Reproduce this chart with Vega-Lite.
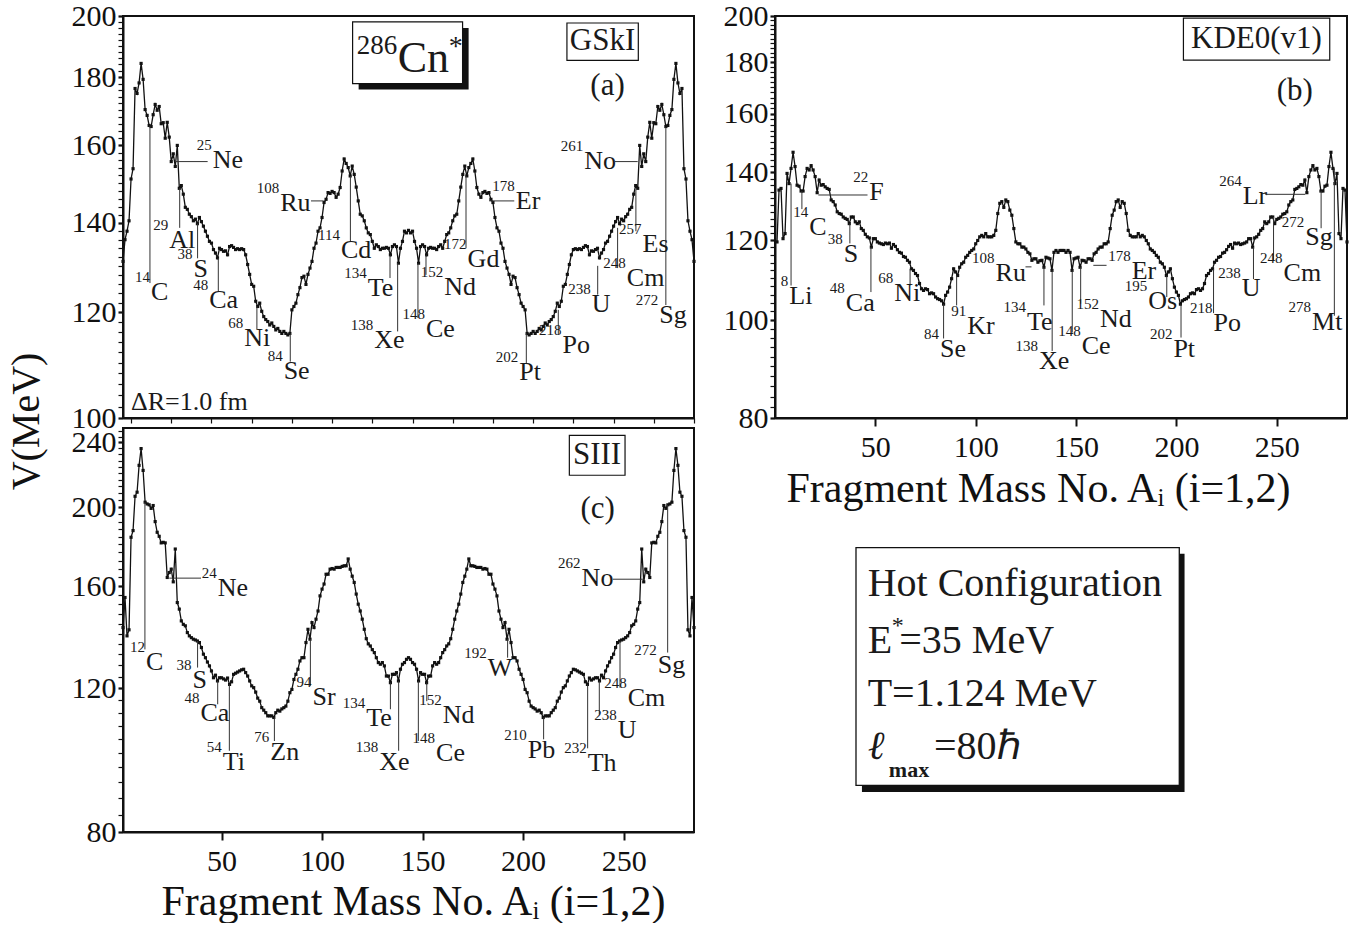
{
"$schema": "https://vega.github.io/schema/vega-lite/v6.json",
"padding": {"left": 5, "top": 0, "right": 0, "bottom": 0},
"background": "white",
"config": {
 "font": "Liberation Serif",
 "view": {"stroke": "#111", "strokeWidth": 2},
 "axis": {"domainColor": "#111", "domainWidth": 2, "tickColor": "#111", "tickWidth": 1.3, "tickSize": 5, "labelFont": "Liberation Serif", "labelFontSize": 30, "labelColor": "#111", "titleFont": "Liberation Serif", "titleFontWeight": "normal", "titleColor": "#111", "grid": false, "labelOverlap": false, "labelFlush": false, "labelBound": false},
 "text": {"font": "Liberation Serif", "color": "#1a1a1a"}
},
"datasets": {
 "a": [{"A":1,"V":131.0},{"A":2,"V":136.0},{"A":3,"V":138.0},{"A":4,"V":140.5},{"A":5,"V":151.0},{"A":6,"V":153.7},{"A":7,"V":176.5},{"A":8,"V":175.0},{"A":9,"V":178.2},{"A":10,"V":184.3},{"A":11,"V":179.3},{"A":12,"V":170.2},{"A":13,"V":168.5},{"A":14,"V":165.6},{"A":15,"V":165.3},{"A":16,"V":168.7},{"A":17,"V":171.7},{"A":18,"V":170.0},{"A":19,"V":171.1},{"A":20,"V":166.1},{"A":21,"V":166.4},{"A":22,"V":162.0},{"A":23,"V":166.5},{"A":24,"V":162.3},{"A":25,"V":155.6},{"A":26,"V":157.7},{"A":27,"V":154.3},{"A":28,"V":160.0},{"A":29,"V":148.6},{"A":30,"V":149.3},{"A":31,"V":147.1},{"A":32,"V":143.8},{"A":33,"V":143.3},{"A":34,"V":142.1},{"A":35,"V":141.5},{"A":36,"V":140.5},{"A":37,"V":140.9},{"A":38,"V":139.8},{"A":39,"V":141.3},{"A":40,"V":140.3},{"A":41,"V":139.2},{"A":42,"V":138.0},{"A":43,"V":136.8},{"A":44,"V":135.6},{"A":45,"V":135.2},{"A":46,"V":133.7},{"A":47,"V":132.9},{"A":48,"V":131.8},{"A":49,"V":134.0},{"A":50,"V":133.7},{"A":51,"V":133.3},{"A":52,"V":133.4},{"A":53,"V":132.5},{"A":54,"V":134.4},{"A":55,"V":134.6},{"A":56,"V":134.2},{"A":57,"V":133.7},{"A":58,"V":133.9},{"A":59,"V":133.7},{"A":60,"V":133.9},{"A":61,"V":133.7},{"A":62,"V":132.5},{"A":63,"V":130.3},{"A":64,"V":128.1},{"A":65,"V":125.9},{"A":66,"V":125.5},{"A":67,"V":122.3},{"A":68,"V":121.2},{"A":69,"V":121.9},{"A":70,"V":120.2},{"A":71,"V":119.1},{"A":72,"V":118.5},{"A":73,"V":118.1},{"A":74,"V":117.4},{"A":75,"V":117.8},{"A":76,"V":117.1},{"A":77,"V":116.4},{"A":78,"V":116.7},{"A":79,"V":116.1},{"A":80,"V":115.7},{"A":81,"V":116.1},{"A":82,"V":115.7},{"A":83,"V":115.4},{"A":84,"V":115.7},{"A":85,"V":120.5},{"A":86,"V":121.2},{"A":87,"V":121.9},{"A":88,"V":123.7},{"A":89,"V":125.2},{"A":90,"V":127.4},{"A":91,"V":127.7},{"A":92,"V":125.9},{"A":93,"V":128.1},{"A":94,"V":129.5},{"A":95,"V":131.0},{"A":96,"V":134.0},{"A":97,"V":135.2},{"A":98,"V":138.0},{"A":99,"V":138.8},{"A":100,"V":141.3},{"A":101,"V":145.0},{"A":102,"V":145.8},{"A":103,"V":147.5},{"A":104,"V":147.3},{"A":105,"V":147.8},{"A":106,"V":147.5},{"A":107,"V":146.3},{"A":108,"V":147.1},{"A":109,"V":148.8},{"A":110,"V":153.1},{"A":111,"V":156.3},{"A":112,"V":155.1},{"A":113,"V":154.0},{"A":114,"V":151.8},{"A":115,"V":154.4},{"A":116,"V":152.2},{"A":117,"V":148.9},{"A":118,"V":145.4},{"A":119,"V":142.1},{"A":120,"V":141.7},{"A":121,"V":140.5},{"A":122,"V":138.8},{"A":123,"V":137.6},{"A":124,"V":137.2},{"A":125,"V":135.6},{"A":126,"V":134.0},{"A":127,"V":134.8},{"A":128,"V":134.4},{"A":129,"V":133.7},{"A":130,"V":134.0},{"A":131,"V":134.0},{"A":132,"V":134.2},{"A":133,"V":134.0},{"A":134,"V":132.5},{"A":135,"V":134.4},{"A":136,"V":134.8},{"A":137,"V":134.4},{"A":138,"V":130.6},{"A":139,"V":134.0},{"A":140,"V":135.6},{"A":141,"V":138.0},{"A":142,"V":137.6},{"A":143,"V":138.2},{"A":144,"V":137.6},{"A":145,"V":138.0},{"A":146,"V":135.6},{"A":147,"V":134.0},{"A":148,"V":130.6},{"A":149,"V":134.4},{"A":150,"V":134.8},{"A":151,"V":134.4},{"A":152,"V":132.5},{"A":153,"V":134.0},{"A":154,"V":134.2},{"A":155,"V":134.0},{"A":156,"V":134.0},{"A":157,"V":133.7},{"A":158,"V":134.4},{"A":159,"V":134.8},{"A":160,"V":134.0},{"A":161,"V":135.6},{"A":162,"V":137.2},{"A":163,"V":137.6},{"A":164,"V":138.8},{"A":165,"V":140.5},{"A":166,"V":141.7},{"A":167,"V":142.1},{"A":168,"V":145.4},{"A":169,"V":148.9},{"A":170,"V":152.2},{"A":171,"V":154.4},{"A":172,"V":151.8},{"A":173,"V":154.0},{"A":174,"V":155.1},{"A":175,"V":156.3},{"A":176,"V":153.1},{"A":177,"V":148.8},{"A":178,"V":147.1},{"A":179,"V":146.3},{"A":180,"V":147.5},{"A":181,"V":147.8},{"A":182,"V":147.3},{"A":183,"V":147.5},{"A":184,"V":145.8},{"A":185,"V":145.0},{"A":186,"V":141.3},{"A":187,"V":138.8},{"A":188,"V":138.0},{"A":189,"V":135.2},{"A":190,"V":134.0},{"A":191,"V":131.0},{"A":192,"V":129.5},{"A":193,"V":128.1},{"A":194,"V":125.9},{"A":195,"V":127.7},{"A":196,"V":127.4},{"A":197,"V":125.2},{"A":198,"V":123.7},{"A":199,"V":121.9},{"A":200,"V":121.2},{"A":201,"V":120.5},{"A":202,"V":115.7},{"A":203,"V":115.4},{"A":204,"V":115.7},{"A":205,"V":116.1},{"A":206,"V":115.7},{"A":207,"V":116.1},{"A":208,"V":116.7},{"A":209,"V":116.4},{"A":210,"V":117.1},{"A":211,"V":117.8},{"A":212,"V":117.4},{"A":213,"V":118.1},{"A":214,"V":118.5},{"A":215,"V":119.1},{"A":216,"V":120.2},{"A":217,"V":121.9},{"A":218,"V":121.2},{"A":219,"V":122.3},{"A":220,"V":125.5},{"A":221,"V":125.9},{"A":222,"V":128.1},{"A":223,"V":130.3},{"A":224,"V":132.5},{"A":225,"V":133.7},{"A":226,"V":133.9},{"A":227,"V":133.7},{"A":228,"V":133.9},{"A":229,"V":133.7},{"A":230,"V":134.2},{"A":231,"V":134.6},{"A":232,"V":134.4},{"A":233,"V":132.5},{"A":234,"V":133.4},{"A":235,"V":133.3},{"A":236,"V":133.7},{"A":237,"V":134.0},{"A":238,"V":131.8},{"A":239,"V":132.9},{"A":240,"V":133.7},{"A":241,"V":135.2},{"A":242,"V":135.6},{"A":243,"V":136.8},{"A":244,"V":138.0},{"A":245,"V":139.2},{"A":246,"V":140.3},{"A":247,"V":141.3},{"A":248,"V":139.8},{"A":249,"V":140.9},{"A":250,"V":140.5},{"A":251,"V":141.5},{"A":252,"V":142.1},{"A":253,"V":143.3},{"A":254,"V":143.8},{"A":255,"V":147.1},{"A":256,"V":149.3},{"A":257,"V":148.6},{"A":258,"V":160.0},{"A":259,"V":154.3},{"A":260,"V":157.7},{"A":261,"V":155.6},{"A":262,"V":162.3},{"A":263,"V":166.5},{"A":264,"V":162.0},{"A":265,"V":166.4},{"A":266,"V":166.1},{"A":267,"V":171.1},{"A":268,"V":170.0},{"A":269,"V":171.7},{"A":270,"V":168.7},{"A":271,"V":165.3},{"A":272,"V":165.6},{"A":273,"V":168.5},{"A":274,"V":170.2},{"A":275,"V":179.3},{"A":276,"V":184.3},{"A":277,"V":178.2},{"A":278,"V":175.0},{"A":279,"V":176.5},{"A":280,"V":153.7},{"A":281,"V":151.0},{"A":282,"V":140.5},{"A":283,"V":138.0},{"A":284,"V":136.0},{"A":285,"V":131.0}],
 "b": [{"A":1,"V":119.5},{"A":2,"V":134.5},{"A":3,"V":135.0},{"A":4,"V":120.4},{"A":5,"V":121.8},{"A":6,"V":139.7},{"A":7,"V":136.5},{"A":8,"V":141.3},{"A":9,"V":146.6},{"A":10,"V":141.9},{"A":11,"V":136.0},{"A":12,"V":135.7},{"A":13,"V":134.2},{"A":14,"V":134.2},{"A":15,"V":138.7},{"A":16,"V":141.3},{"A":17,"V":140.8},{"A":18,"V":142.2},{"A":19,"V":140.8},{"A":20,"V":138.7},{"A":21,"V":133.7},{"A":22,"V":137.6},{"A":23,"V":136.0},{"A":24,"V":136.2},{"A":25,"V":135.5},{"A":26,"V":135.0},{"A":27,"V":134.7},{"A":28,"V":131.5},{"A":29,"V":131.0},{"A":30,"V":130.0},{"A":31,"V":128.0},{"A":32,"V":127.5},{"A":33,"V":127.3},{"A":34,"V":126.5},{"A":35,"V":126.1},{"A":36,"V":125.8},{"A":37,"V":124.6},{"A":38,"V":126.5},{"A":39,"V":126.5},{"A":40,"V":125.1},{"A":41,"V":124.6},{"A":42,"V":125.1},{"A":43,"V":123.2},{"A":44,"V":122.7},{"A":45,"V":121.6},{"A":46,"V":120.9},{"A":47,"V":120.6},{"A":48,"V":118.1},{"A":49,"V":120.4},{"A":50,"V":120.4},{"A":51,"V":119.5},{"A":52,"V":119.2},{"A":53,"V":119.0},{"A":54,"V":118.8},{"A":55,"V":119.2},{"A":56,"V":119.0},{"A":57,"V":119.2},{"A":58,"V":117.8},{"A":59,"V":118.8},{"A":60,"V":118.3},{"A":61,"V":117.4},{"A":62,"V":116.7},{"A":63,"V":116.5},{"A":64,"V":115.6},{"A":65,"V":115.4},{"A":66,"V":114.6},{"A":67,"V":114.1},{"A":68,"V":112.4},{"A":69,"V":112.0},{"A":70,"V":111.2},{"A":71,"V":110.7},{"A":72,"V":108.7},{"A":73,"V":107.4},{"A":74,"V":107.0},{"A":75,"V":107.4},{"A":76,"V":107.2},{"A":77,"V":106.2},{"A":78,"V":106.4},{"A":79,"V":106.2},{"A":80,"V":105.4},{"A":81,"V":105.0},{"A":82,"V":104.8},{"A":83,"V":104.5},{"A":84,"V":103.7},{"A":85,"V":105.8},{"A":86,"V":106.6},{"A":87,"V":107.8},{"A":88,"V":109.9},{"A":89,"V":112.4},{"A":90,"V":111.6},{"A":91,"V":110.7},{"A":92,"V":112.8},{"A":93,"V":113.7},{"A":94,"V":114.1},{"A":95,"V":115.4},{"A":96,"V":115.9},{"A":97,"V":116.7},{"A":98,"V":117.2},{"A":99,"V":117.6},{"A":100,"V":119.0},{"A":101,"V":119.9},{"A":102,"V":120.9},{"A":103,"V":121.3},{"A":104,"V":120.9},{"A":105,"V":121.8},{"A":106,"V":120.9},{"A":107,"V":120.9},{"A":108,"V":120.9},{"A":109,"V":121.3},{"A":110,"V":122.7},{"A":111,"V":127.5},{"A":112,"V":130.5},{"A":113,"V":131.0},{"A":114,"V":129.3},{"A":115,"V":131.5},{"A":116,"V":131.0},{"A":117,"V":128.5},{"A":118,"V":127.0},{"A":119,"V":123.2},{"A":120,"V":119.5},{"A":121,"V":119.0},{"A":122,"V":119.0},{"A":123,"V":118.1},{"A":124,"V":118.1},{"A":125,"V":117.6},{"A":126,"V":116.7},{"A":127,"V":116.3},{"A":128,"V":114.6},{"A":129,"V":115.0},{"A":130,"V":115.0},{"A":131,"V":114.1},{"A":132,"V":114.5},{"A":133,"V":114.6},{"A":134,"V":112.8},{"A":135,"V":115.4},{"A":136,"V":115.2},{"A":137,"V":115.0},{"A":138,"V":112.0},{"A":139,"V":116.7},{"A":140,"V":117.2},{"A":141,"V":116.7},{"A":142,"V":117.2},{"A":143,"V":117.2},{"A":144,"V":117.2},{"A":145,"V":116.7},{"A":146,"V":117.2},{"A":147,"V":116.7},{"A":148,"V":112.0},{"A":149,"V":115.0},{"A":150,"V":115.2},{"A":151,"V":115.4},{"A":152,"V":112.8},{"A":153,"V":114.6},{"A":154,"V":114.5},{"A":155,"V":114.1},{"A":156,"V":115.0},{"A":157,"V":115.0},{"A":158,"V":114.6},{"A":159,"V":116.3},{"A":160,"V":116.7},{"A":161,"V":117.6},{"A":162,"V":118.1},{"A":163,"V":118.1},{"A":164,"V":119.0},{"A":165,"V":119.0},{"A":166,"V":119.5},{"A":167,"V":123.2},{"A":168,"V":127.0},{"A":169,"V":128.5},{"A":170,"V":131.0},{"A":171,"V":131.5},{"A":172,"V":129.3},{"A":173,"V":131.0},{"A":174,"V":130.5},{"A":175,"V":127.5},{"A":176,"V":122.7},{"A":177,"V":121.3},{"A":178,"V":120.9},{"A":179,"V":120.9},{"A":180,"V":120.9},{"A":181,"V":121.8},{"A":182,"V":120.9},{"A":183,"V":121.3},{"A":184,"V":120.9},{"A":185,"V":119.9},{"A":186,"V":119.0},{"A":187,"V":117.6},{"A":188,"V":117.2},{"A":189,"V":116.7},{"A":190,"V":115.9},{"A":191,"V":115.4},{"A":192,"V":114.1},{"A":193,"V":113.7},{"A":194,"V":112.8},{"A":195,"V":110.7},{"A":196,"V":111.6},{"A":197,"V":112.4},{"A":198,"V":109.9},{"A":199,"V":107.8},{"A":200,"V":106.6},{"A":201,"V":105.8},{"A":202,"V":103.7},{"A":203,"V":104.5},{"A":204,"V":104.8},{"A":205,"V":105.0},{"A":206,"V":105.4},{"A":207,"V":106.2},{"A":208,"V":106.4},{"A":209,"V":106.2},{"A":210,"V":107.2},{"A":211,"V":107.4},{"A":212,"V":107.0},{"A":213,"V":107.4},{"A":214,"V":108.7},{"A":215,"V":110.7},{"A":216,"V":111.2},{"A":217,"V":112.0},{"A":218,"V":112.4},{"A":219,"V":114.1},{"A":220,"V":114.6},{"A":221,"V":115.4},{"A":222,"V":115.6},{"A":223,"V":116.5},{"A":224,"V":116.7},{"A":225,"V":117.4},{"A":226,"V":118.3},{"A":227,"V":118.8},{"A":228,"V":117.8},{"A":229,"V":119.2},{"A":230,"V":119.0},{"A":231,"V":119.2},{"A":232,"V":118.8},{"A":233,"V":119.0},{"A":234,"V":119.2},{"A":235,"V":119.5},{"A":236,"V":120.4},{"A":237,"V":120.4},{"A":238,"V":118.1},{"A":239,"V":120.6},{"A":240,"V":120.9},{"A":241,"V":121.6},{"A":242,"V":122.7},{"A":243,"V":123.2},{"A":244,"V":125.1},{"A":245,"V":124.6},{"A":246,"V":125.1},{"A":247,"V":126.5},{"A":248,"V":126.5},{"A":249,"V":124.6},{"A":250,"V":125.8},{"A":251,"V":126.1},{"A":252,"V":126.5},{"A":253,"V":127.3},{"A":254,"V":127.5},{"A":255,"V":128.0},{"A":256,"V":130.0},{"A":257,"V":131.0},{"A":258,"V":131.5},{"A":259,"V":134.7},{"A":260,"V":135.0},{"A":261,"V":135.5},{"A":262,"V":136.2},{"A":263,"V":136.0},{"A":264,"V":137.6},{"A":265,"V":133.7},{"A":266,"V":138.7},{"A":267,"V":140.8},{"A":268,"V":142.2},{"A":269,"V":140.8},{"A":270,"V":141.3},{"A":271,"V":138.7},{"A":272,"V":134.2},{"A":273,"V":134.2},{"A":274,"V":135.7},{"A":275,"V":136.0},{"A":276,"V":141.9},{"A":277,"V":146.6},{"A":278,"V":141.3},{"A":279,"V":136.5},{"A":280,"V":139.7},{"A":281,"V":121.8},{"A":282,"V":120.4},{"A":283,"V":135.0},{"A":284,"V":134.5},{"A":285,"V":119.5}],
 "c": [{"A":1,"V":142.4},{"A":2,"V":155.0},{"A":3,"V":139.1},{"A":4,"V":141.5},{"A":5,"V":183.7},{"A":6,"V":187.2},{"A":7,"V":206.2},{"A":8,"V":208.6},{"A":9,"V":225.0},{"A":10,"V":235.9},{"A":11,"V":221.8},{"A":12,"V":202.8},{"A":13,"V":201.8},{"A":14,"V":201.3},{"A":15,"V":199.3},{"A":16,"V":200.9},{"A":17,"V":192.0},{"A":18,"V":186.3},{"A":19,"V":184.2},{"A":20,"V":180.8},{"A":21,"V":181.1},{"A":22,"V":180.8},{"A":23,"V":164.0},{"A":24,"V":166.3},{"A":25,"V":167.9},{"A":26,"V":162.0},{"A":27,"V":177.7},{"A":28,"V":152.8},{"A":29,"V":150.0},{"A":30,"V":145.1},{"A":31,"V":143.7},{"A":32,"V":143.1},{"A":33,"V":140.4},{"A":34,"V":139.1},{"A":35,"V":138.4},{"A":36,"V":137.8},{"A":37,"V":137.5},{"A":38,"V":137.1},{"A":39,"V":136.5},{"A":40,"V":134.6},{"A":41,"V":132.1},{"A":42,"V":130.8},{"A":43,"V":129.2},{"A":44,"V":127.8},{"A":45,"V":126.0},{"A":46,"V":123.6},{"A":47,"V":124.5},{"A":48,"V":122.5},{"A":49,"V":123.6},{"A":50,"V":123.6},{"A":51,"V":123.2},{"A":52,"V":122.8},{"A":53,"V":123.5},{"A":54,"V":121.3},{"A":55,"V":122.2},{"A":56,"V":124.8},{"A":57,"V":125.2},{"A":58,"V":125.6},{"A":59,"V":126.0},{"A":60,"V":126.4},{"A":61,"V":126.6},{"A":62,"V":125.4},{"A":63,"V":124.2},{"A":64,"V":122.5},{"A":65,"V":120.8},{"A":66,"V":120.2},{"A":67,"V":118.7},{"A":68,"V":116.7},{"A":69,"V":115.7},{"A":70,"V":113.6},{"A":71,"V":112.8},{"A":72,"V":112.0},{"A":73,"V":111.0},{"A":74,"V":111.0},{"A":75,"V":111.0},{"A":76,"V":110.5},{"A":77,"V":112.0},{"A":78,"V":112.8},{"A":79,"V":112.5},{"A":80,"V":113.2},{"A":81,"V":113.6},{"A":82,"V":114.1},{"A":83,"V":115.7},{"A":84,"V":118.5},{"A":85,"V":119.6},{"A":86,"V":123.0},{"A":87,"V":124.8},{"A":88,"V":126.6},{"A":89,"V":129.6},{"A":90,"V":130.8},{"A":91,"V":130.8},{"A":92,"V":136.5},{"A":93,"V":141.7},{"A":94,"V":137.8},{"A":95,"V":144.4},{"A":96,"V":142.4},{"A":97,"V":145.8},{"A":98,"V":149.2},{"A":99,"V":155.7},{"A":100,"V":158.7},{"A":101,"V":161.0},{"A":102,"V":165.5},{"A":103,"V":165.5},{"A":104,"V":167.9},{"A":105,"V":168.2},{"A":106,"V":167.9},{"A":107,"V":168.7},{"A":108,"V":168.7},{"A":109,"V":168.7},{"A":110,"V":169.2},{"A":111,"V":169.5},{"A":112,"V":169.5},{"A":113,"V":172.8},{"A":114,"V":167.9},{"A":115,"V":164.6},{"A":116,"V":161.7},{"A":117,"V":156.5},{"A":118,"V":152.1},{"A":119,"V":149.2},{"A":120,"V":145.8},{"A":121,"V":141.7},{"A":122,"V":138.0},{"A":123,"V":136.0},{"A":124,"V":135.2},{"A":125,"V":133.8},{"A":126,"V":132.7},{"A":127,"V":130.8},{"A":128,"V":129.0},{"A":129,"V":128.4},{"A":130,"V":129.0},{"A":131,"V":127.8},{"A":132,"V":124.2},{"A":133,"V":124.2},{"A":134,"V":121.9},{"A":135,"V":124.8},{"A":136,"V":124.8},{"A":137,"V":125.4},{"A":138,"V":122.5},{"A":139,"V":126.6},{"A":140,"V":128.4},{"A":141,"V":129.0},{"A":142,"V":130.2},{"A":143,"V":130.8},{"A":144,"V":130.2},{"A":145,"V":129.0},{"A":146,"V":128.4},{"A":147,"V":126.6},{"A":148,"V":122.5},{"A":149,"V":125.4},{"A":150,"V":124.8},{"A":151,"V":124.8},{"A":152,"V":121.9},{"A":153,"V":124.2},{"A":154,"V":124.2},{"A":155,"V":127.8},{"A":156,"V":129.0},{"A":157,"V":128.4},{"A":158,"V":129.0},{"A":159,"V":130.8},{"A":160,"V":132.7},{"A":161,"V":133.8},{"A":162,"V":135.2},{"A":163,"V":136.0},{"A":164,"V":138.0},{"A":165,"V":141.7},{"A":166,"V":145.8},{"A":167,"V":149.2},{"A":168,"V":152.1},{"A":169,"V":156.5},{"A":170,"V":161.7},{"A":171,"V":164.6},{"A":172,"V":167.9},{"A":173,"V":172.8},{"A":174,"V":169.5},{"A":175,"V":169.5},{"A":176,"V":169.2},{"A":177,"V":168.7},{"A":178,"V":168.7},{"A":179,"V":168.7},{"A":180,"V":167.9},{"A":181,"V":168.2},{"A":182,"V":167.9},{"A":183,"V":165.5},{"A":184,"V":165.5},{"A":185,"V":161.0},{"A":186,"V":158.7},{"A":187,"V":155.7},{"A":188,"V":149.2},{"A":189,"V":145.8},{"A":190,"V":142.4},{"A":191,"V":144.4},{"A":192,"V":137.8},{"A":193,"V":141.7},{"A":194,"V":136.5},{"A":195,"V":130.8},{"A":196,"V":130.8},{"A":197,"V":129.6},{"A":198,"V":126.6},{"A":199,"V":124.8},{"A":200,"V":123.0},{"A":201,"V":119.6},{"A":202,"V":118.5},{"A":203,"V":115.7},{"A":204,"V":114.1},{"A":205,"V":113.6},{"A":206,"V":113.2},{"A":207,"V":112.5},{"A":208,"V":112.8},{"A":209,"V":112.0},{"A":210,"V":110.5},{"A":211,"V":111.0},{"A":212,"V":111.0},{"A":213,"V":111.0},{"A":214,"V":112.0},{"A":215,"V":112.8},{"A":216,"V":113.6},{"A":217,"V":115.7},{"A":218,"V":116.7},{"A":219,"V":118.7},{"A":220,"V":120.2},{"A":221,"V":120.8},{"A":222,"V":122.5},{"A":223,"V":124.2},{"A":224,"V":125.4},{"A":225,"V":126.6},{"A":226,"V":126.4},{"A":227,"V":126.0},{"A":228,"V":125.6},{"A":229,"V":125.2},{"A":230,"V":124.8},{"A":231,"V":122.2},{"A":232,"V":121.3},{"A":233,"V":123.5},{"A":234,"V":122.8},{"A":235,"V":123.2},{"A":236,"V":123.6},{"A":237,"V":123.6},{"A":238,"V":122.5},{"A":239,"V":124.5},{"A":240,"V":123.6},{"A":241,"V":126.0},{"A":242,"V":127.8},{"A":243,"V":129.2},{"A":244,"V":130.8},{"A":245,"V":132.1},{"A":246,"V":134.6},{"A":247,"V":136.5},{"A":248,"V":137.1},{"A":249,"V":137.5},{"A":250,"V":137.8},{"A":251,"V":138.4},{"A":252,"V":139.1},{"A":253,"V":140.4},{"A":254,"V":143.1},{"A":255,"V":143.7},{"A":256,"V":145.1},{"A":257,"V":150.0},{"A":258,"V":152.8},{"A":259,"V":177.7},{"A":260,"V":162.0},{"A":261,"V":167.9},{"A":262,"V":166.3},{"A":263,"V":164.0},{"A":264,"V":180.8},{"A":265,"V":181.1},{"A":266,"V":180.8},{"A":267,"V":184.2},{"A":268,"V":186.3},{"A":269,"V":192.0},{"A":270,"V":200.9},{"A":271,"V":199.3},{"A":272,"V":201.3},{"A":273,"V":201.8},{"A":274,"V":202.8},{"A":275,"V":221.8},{"A":276,"V":235.9},{"A":277,"V":225.0},{"A":278,"V":208.6},{"A":279,"V":206.2},{"A":280,"V":187.2},{"A":281,"V":183.7},{"A":282,"V":141.5},{"A":283,"V":139.1},{"A":284,"V":155.0},{"A":285,"V":142.4}],
 "aL": [
  {"sup":"14","el":"C","x":14.4,"y":165.6,"x2":14.4,"y2":126.2,"ex":14.9,"ey":126.2},
  {"sup":"29","el":"Al","x":29.2,"y":148.6,"x2":29.2,"y2":138.8,"ex":24.0,"ey":138.0},
  {"sup":"38","el":"S","x":38.1,"y":139.8,"x2":38.1,"y2":131.7,"ex":36.1,"ey":131.4},
  {"sup":"48","el":"Ca","x":48.4,"y":131.8,"x2":48.4,"y2":124.4,"ex":43.9,"ey":124.4},
  {"sup":"68","el":"Ni","x":67.6,"y":121.2,"x2":67.6,"y2":116.5,"ex":61.3,"ey":116.5},
  {"sup":"84","el":"Se","x":84.2,"y":115.7,"x2":84.2,"y2":110.2,"ex":80.9,"ey":110.2},
  {"sup":"25","el":"Ne","x":26.9,"y":155.6,"x2":43.1,"y2":155.6,"ex":45.6,"ey":158.6},
  {"sup":"108","el":"Ru","x":94.5,"y":145.4,"x2":100.8,"y2":145.4,"ex":79.2,"ey":147.2},
  {"sup":"114","el":"Cd","x":114.1,"y":151.8,"x2":114.1,"y2":135.6,"ex":109.4,"ey":135.6},
  {"sup":"134","el":"Te","x":133.8,"y":132.5,"x2":133.8,"y2":127.3,"ex":122.7,"ey":127.0},
  {"sup":"138","el":"Xe","x":137.6,"y":130.6,"x2":137.6,"y2":116.1,"ex":126.0,"ey":116.1},
  {"sup":"148","el":"Ce","x":147.7,"y":130.6,"x2":147.7,"y2":118.8,"ex":151.7,"ey":118.5},
  {"sup":"152","el":"Nd","x":151.7,"y":132.5,"x2":151.7,"y2":128.0,"ex":160.8,"ey":127.3},
  {"sup":"172","el":"Gd","x":171.6,"y":151.8,"x2":171.6,"y2":134.0,"ex":172.4,"ey":133.7},
  {"sup":"178","el":"Er","x":183.2,"y":145.4,"x2":195.6,"y2":145.4,"ex":196.4,"ey":147.6},
  {"sup":"202","el":"Pt","x":201.6,"y":115.7,"x2":201.6,"y2":109.9,"ex":198.1,"ey":109.9},
  {"sup":"218","el":"Po","x":217.5,"y":120.5,"x2":217.5,"y2":115.4,"ex":219.6,"ey":115.1},
  {"sup":"238","el":"U","x":237.1,"y":130.0,"x2":237.1,"y2":123.7,"ex":234.1,"ey":123.7},
  {"sup":"248","el":"Cm","x":247.0,"y":138.8,"x2":247.0,"y2":129.5,"ex":251.6,"ey":129.2},
  {"sup":"257","el":"Es","x":256.1,"y":148.3,"x2":256.1,"y2":138.0,"ex":259.4,"ey":137.2},
  {"sup":"272","el":"Sg","x":271.0,"y":165.1,"x2":271.0,"y2":121.5,"ex":267.7,"ey":121.2},
  {"sup":"261","el":"No","x":245.7,"y":155.6,"x2":257.0,"y2":155.6,"ex":230.4,"ey":158.1}
 ],
 "bL": [
  {"sup":"8","el":"Li","x":8.0,"y":136.5,"x2":8.0,"y2":108.2,"ex":7.1,"ey":107.8},
  {"sup":"14","el":"C","x":13.4,"y":134.2,"x2":13.4,"y2":128.8,"ex":17.1,"ey":126.3},
  {"sup":"22","el":"F","x":21.6,"y":133.0,"x2":46.1,"y2":133.0,"ex":46.9,"ey":136.6},
  {"sup":"38","el":"S","x":37.3,"y":124.6,"x2":37.3,"y2":119.1,"ex":34.2,"ey":118.6},
  {"sup":"48","el":"Ca","x":47.8,"y":118.1,"x2":47.8,"y2":106.6,"ex":35.3,"ey":106.2},
  {"sup":"68","el":"Ni","x":67.3,"y":112.4,"x2":67.3,"y2":108.2,"ex":59.4,"ey":108.6},
  {"sup":"84","el":"Se","x":84.0,"y":103.7,"x2":84.0,"y2":95.9,"ex":82.2,"ey":95.6},
  {"sup":"91","el":"Kr","x":90.5,"y":110.7,"x2":90.5,"y2":103.4,"ex":95.8,"ey":100.6},
  {"sup":"108","el":"Ru","x":124.8,"y":112.9,"x2":127.8,"y2":112.9,"ex":109.9,"ey":113.7},
  {"sup":"134","el":"Te","x":134.0,"y":112.8,"x2":134.0,"y2":103.4,"ex":125.5,"ey":101.6},
  {"sup":"138","el":"Xe","x":138.1,"y":112.0,"x2":138.1,"y2":93.2,"ex":131.5,"ey":92.9},
  {"sup":"148","el":"Ce","x":148.1,"y":112.0,"x2":148.1,"y2":97.2,"ex":152.8,"ey":96.3},
  {"sup":"152","el":"Nd","x":152.3,"y":112.8,"x2":152.3,"y2":103.8,"ex":161.9,"ey":102.3},
  {"sup":"178","el":"Er","x":158.6,"y":113.3,"x2":165.2,"y2":113.3,"ex":177.7,"ey":114.2},
  {"sup":"195","el":"Os","x":195.2,"y":110.7,"x2":195.2,"y2":105.4,"ex":186.0,"ey":106.6},
  {"sup":"202","el":"Pt","x":202.3,"y":103.7,"x2":202.3,"y2":96.1,"ex":198.5,"ey":95.6},
  {"sup":"218","el":"Po","x":218.5,"y":112.4,"x2":218.5,"y2":101.6,"ex":218.5,"ey":101.3},
  {"sup":"238","el":"U","x":238.4,"y":118.1,"x2":238.4,"y2":109.8,"ex":232.6,"ey":109.8},
  {"sup":"248","el":"Cm","x":248.4,"y":126.5,"x2":248.4,"y2":114.5,"ex":253.4,"ey":113.7},
  {"sup":"264","el":"Lr","x":244.3,"y":133.2,"x2":264.2,"y2":133.2,"ex":233.0,"ey":135.5},
  {"sup":"272","el":"Sg","x":272.1,"y":134.2,"x2":272.1,"y2":123.3,"ex":264.2,"ey":123.3},
  {"sup":"278","el":"Mt","x":278.7,"y":141.3,"x2":278.7,"y2":101.0,"ex":267.6,"ey":101.6}
 ],
 "cL": [
  {"sup":"12","el":"C","x":11.9,"y":202.8,"x2":11.9,"y2":133.9,"ex":12.4,"ey":132.7},
  {"sup":"24","el":"Ne","x":24.0,"y":163.7,"x2":39.8,"y2":163.7,"ex":48.1,"ey":163.2},
  {"sup":"38","el":"S","x":38.1,"y":137.1,"x2":38.1,"y2":127.2,"ex":35.6,"ey":126.0},
  {"sup":"48","el":"Ca","x":48.1,"y":122.5,"x2":48.1,"y2":114.7,"ex":39.5,"ey":114.7},
  {"sup":"54","el":"Ti","x":53.9,"y":121.3,"x2":53.9,"y2":100.6,"ex":50.6,"ey":100.1},
  {"sup":"76","el":"Zn","x":76.3,"y":110.5,"x2":76.3,"y2":103.4,"ex":74.3,"ey":102.9},
  {"sup":"94","el":"Sr","x":94.2,"y":137.8,"x2":94.2,"y2":120.8,"ex":95.3,"ey":120.2},
  {"sup":"134","el":"Te","x":134.0,"y":121.9,"x2":134.0,"y2":113.1,"ex":122.0,"ey":113.1},
  {"sup":"138","el":"Xe","x":138.1,"y":122.5,"x2":138.1,"y2":100.6,"ex":128.5,"ey":100.1},
  {"sup":"148","el":"Ce","x":147.9,"y":122.5,"x2":147.9,"y2":103.4,"ex":156.7,"ey":102.4},
  {"sup":"152","el":"Nd","x":152.1,"y":121.9,"x2":152.1,"y2":115.7,"ex":160.0,"ey":114.1},
  {"sup":"192","el":"W","x":192.3,"y":137.8,"x2":192.3,"y2":130.8,"ex":182.4,"ey":130.2},
  {"sup":"210","el":"Pb","x":210.2,"y":110.5,"x2":210.2,"y2":103.9,"ex":202.3,"ey":103.4},
  {"sup":"232","el":"Th","x":232.1,"y":121.3,"x2":232.1,"y2":101.3,"ex":232.1,"ey":99.6},
  {"sup":"238","el":"U","x":237.9,"y":122.5,"x2":237.9,"y2":111.5,"ex":247.1,"ey":109.4},
  {"sup":"248","el":"Cm","x":248.2,"y":137.1,"x2":248.2,"y2":120.2,"ex":252.0,"ey":119.6},
  {"sup":"272","el":"Sg","x":271.9,"y":201.3,"x2":271.9,"y2":132.7,"ex":267.0,"ey":131.4},
  {"sup":"262","el":"No","x":244.6,"y":163.2,"x2":260.3,"y2":163.2,"ex":229.1,"ey":167.9}
 ]
},
"columns": 2,
"bounds": "flush",
"spacing": {"row": 10, "column": 81},
"concat": [
  {"width": 571, "height": 402,
   "layer": [
    {"data": {"values": [{"x":118.2,"x2":172.9,"y":195.9,"y2":176.2}]}, "mark": {"type":"rect","color":"#111"},
     "encoding": {"x":{"field":"x","type":"quantitative","scale":{"domain":[1,285],"nice":false,"zero":false},
        "axis":{"values":[5,10,15,20,25,30,35,40,45,50,55,60,65,70,75,80,85,90,95,100,105,110,115,120,125,130,135,140,145,150,155,160,165,170,175,180,185,190,195,200,205,210,215,220,225,230,235,240,245,250,255,260,265,270,275,280,285],"labels":false,"title":null,"tickWidth":{"condition":{"test":"datum.value % 50 === 0","value":2.2},"value":1.2}}},
      "y":{"field":"y","type":"quantitative","scale":{"type":"log","domain":[100,200],"nice":false},
        "axis":{"values":[100,102,104,106,108,110,112,114,116,118,120,122,124,126,128,130,132,134,136,138,140,142,144,146,148,150,152,154,156,158,160,162,164,166,168,170,172,174,176,178,180,182,184,186,188,190,192,194,196,198,200],"labelExpr":"datum.value % 20 === 0 ? format(datum.value, 'd') : ''","tickWidth":{"condition":{"test":"datum.value % 20 === 0","value":2.2},"value":1.2},"labelPadding":2,"title":"V(MeV)","titleFontSize":40,"titleAngle":270,"titleAlign":"center","titleBaseline":"alphabetic","titleX":-85,"titleY":405}},
      "x2":{"field":"x2"},"y2":{"field":"y2"}}},
    {"data": {"values": [{"x":115.2,"x2":169.9,"y":198.0,"y2":178.0},{"x":221.8,"x2":257.3,"y":197.6,"y2":185.3}]}, "mark": {"type":"rect","fill":"white","stroke":"#111","strokeWidth":1.2},
     "encoding": {"x":{"field":"x","type":"quantitative"},"y":{"field":"y","type":"quantitative"},"x2":{"field":"x2"},"y2":{"field":"y2"}}},
    {"data": {"name": "a"}, "mark": {"type":"line","color":"#111","strokeWidth":1.3,"point":{"shape":"square","size":10,"color":"#111","filled":true}},
     "encoding": {"x":{"field":"A","type":"quantitative"},"y":{"field":"V","type":"quantitative"}}},
    {"data": {"name": "aL"}, "mark": {"type":"rule","color":"#333","strokeWidth":1},
     "encoding": {"x":{"field":"x","type":"quantitative"},"y":{"field":"y","type":"quantitative"},"x2":{"field":"x2"},"y2":{"field":"y2"}}},
    {"data": {"name": "aL"}, "mark": {"type":"text","align":"right","baseline":"top","fontSize":15,"dx":-1,"dy":-13},
     "encoding": {"x":{"field":"ex","type":"quantitative"},"y":{"field":"ey","type":"quantitative"},"text":{"field":"sup"}}},
    {"data": {"name": "aL"}, "mark": {"type":"text","align":"left","baseline":"top","fontSize":26,"dy":-4},
     "encoding": {"x":{"field":"ex","type":"quantitative"},"y":{"field":"ey","type":"quantitative"},"text":{"field":"el"}}},
    {"data": {"values": [{"t":"GSkI","x":239.5,"y":191.4},{"t":"(a)","x":242,"y":177.3}]}, "mark": {"type":"text","align":"center","baseline":"middle","fontSize":31},
     "encoding": {"x":{"field":"x","type":"quantitative"},"y":{"field":"y","type":"quantitative"},"text":{"field":"t"}}},
    {"data": {"values": [{"t":"ΔR=1.0 fm","x":5,"y":101.4}]}, "mark": {"type":"text","align":"left","baseline":"alphabetic","fontSize":26},
     "encoding": {"x":{"field":"x","type":"quantitative"},"y":{"field":"y","type":"quantitative"},"text":{"field":"t"}}},
    {"data": {"values": [{"t":"Cn","x":137.6,"y":181.6}]}, "mark": {"type":"text","align":"left","baseline":"alphabetic","fontSize":44},
     "encoding": {"x":{"field":"x","type":"quantitative"},"y":{"field":"y","type":"quantitative"},"text":{"field":"t"}}},
    {"data": {"values": [{"t":"286","x":137.4,"y":194.2}]}, "mark": {"type":"text","align":"right","baseline":"top","fontSize":27},
     "encoding": {"x":{"field":"x","type":"quantitative"},"y":{"field":"y","type":"quantitative"},"text":{"field":"t"}}},
    {"data": {"values": [{"t":"*","x":163.0,"y":194.2}]}, "mark": {"type":"text","align":"left","baseline":"top","fontSize":28},
     "encoding": {"x":{"field":"x","type":"quantitative"},"y":{"field":"y","type":"quantitative"},"text":{"field":"t"}}}
   ]},
  {"width": 572, "height": 402,
   "layer": [
    {"data": {"values": [{"x":203.5,"x2":276.4,"y":199.0,"y2":180.9}]}, "mark": {"type":"rect","fill":"white","stroke":"#111","strokeWidth":1.2},
     "encoding": {"x":{"field":"x","type":"quantitative","scale":{"domain":[0,285],"nice":false,"zero":false},
        "axis":{"values":[50,100,150,200,250],"format":"d","labelFontSize":30,"labelPadding":6,"tickSize":8,"tickWidth":2,"title":"Fragment Mass No. Aᵢ (i=1,2)","titleFontSize":42,"titleAlign":"center","titleBaseline":"alphabetic","titleX":263,"titleY":83}},
      "y":{"field":"y","type":"quantitative","scale":{"type":"log","domain":[80,200],"nice":false},
        "axis":{"values":[80,82,84,86,88,90,92,94,96,98,100,102,104,106,108,110,112,114,116,118,120,122,124,126,128,130,132,134,136,138,140,142,144,146,148,150,152,154,156,158,160,162,164,166,168,170,172,174,176,178,180,182,184,186,188,190,192,194,196,198,200],"labelExpr":"datum.value % 20 === 0 ? format(datum.value, 'd') : ''","tickWidth":{"condition":{"test":"datum.value % 20 === 0","value":2.2},"value":1.2},"labelPadding":2,"title":null}},
      "x2":{"field":"x2"},"y2":{"field":"y2"}}},
    {"data": {"name": "b"}, "mark": {"type":"line","color":"#111","strokeWidth":1.3,"point":{"shape":"square","size":10,"color":"#111","filled":true}},
     "encoding": {"x":{"field":"A","type":"quantitative"},"y":{"field":"V","type":"quantitative"}}},
    {"data": {"name": "bL"}, "mark": {"type":"rule","color":"#333","strokeWidth":1},
     "encoding": {"x":{"field":"x","type":"quantitative"},"y":{"field":"y","type":"quantitative"},"x2":{"field":"x2"},"y2":{"field":"y2"}}},
    {"data": {"name": "bL"}, "mark": {"type":"text","align":"right","baseline":"top","fontSize":15,"dx":-1,"dy":-13},
     "encoding": {"x":{"field":"ex","type":"quantitative"},"y":{"field":"ey","type":"quantitative"},"text":{"field":"sup"}}},
    {"data": {"name": "bL"}, "mark": {"type":"text","align":"left","baseline":"top","fontSize":26,"dy":-4},
     "encoding": {"x":{"field":"ex","type":"quantitative"},"y":{"field":"ey","type":"quantitative"},"text":{"field":"el"}}},
    {"data": {"values": [{"t":"KDE0(v1)","x":239.9,"y":189.8},{"t":"(b)","x":259,"y":168.4}]}, "mark": {"type":"text","align":"center","baseline":"middle","fontSize":31},
     "encoding": {"x":{"field":"x","type":"quantitative"},"y":{"field":"y","type":"quantitative"},"text":{"field":"t"}}}
   ]},
  {"width": 571, "height": 404,
   "layer": [
    {"data": {"values": [{"x":223.0,"x2":250.7,"y":244.9,"y2":218.8}]}, "mark": {"type":"rect","fill":"white","stroke":"#111","strokeWidth":1.2},
     "encoding": {"x":{"field":"x","type":"quantitative","scale":{"domain":[1,285],"nice":false,"zero":false},
        "axis":{"values":[50,100,150,200,250],"format":"d","labelFontSize":30,"labelPadding":6,"tickSize":8,"tickWidth":2,"title":"Fragment Mass No. Aᵢ (i=1,2)","titleFontSize":42,"titleAlign":"center","titleBaseline":"alphabetic","titleX":290,"titleY":82}},
      "y":{"field":"y","type":"quantitative","scale":{"type":"log","domain":[80,250],"nice":false},
        "axis":{"values":[80,84,88,92,96,100,104,108,112,116,120,124,128,132,136,140,144,148,152,156,160,164,168,172,176,180,184,188,192,196,200,204,208,212,216,220,224,228,232,236,240,244,248],"labelExpr":"datum.value % 40 === 0 ? format(datum.value, 'd') : ''","tickWidth":{"condition":{"test":"datum.value % 40 === 0","value":2.2},"value":1.2},"labelPadding":2,"title":null}},
      "x2":{"field":"x2"},"y2":{"field":"y2"}}},
    {"data": {"name": "c"}, "mark": {"type":"line","color":"#111","strokeWidth":1.3,"point":{"shape":"square","size":10,"color":"#111","filled":true}},
     "encoding": {"x":{"field":"A","type":"quantitative"},"y":{"field":"V","type":"quantitative"}}},
    {"data": {"name": "cL"}, "mark": {"type":"rule","color":"#333","strokeWidth":1},
     "encoding": {"x":{"field":"x","type":"quantitative"},"y":{"field":"y","type":"quantitative"},"x2":{"field":"x2"},"y2":{"field":"y2"}}},
    {"data": {"name": "cL"}, "mark": {"type":"text","align":"right","baseline":"top","fontSize":15,"dx":-1,"dy":-13},
     "encoding": {"x":{"field":"ex","type":"quantitative"},"y":{"field":"ey","type":"quantitative"},"text":{"field":"sup"}}},
    {"data": {"name": "cL"}, "mark": {"type":"text","align":"left","baseline":"top","fontSize":26,"dy":-4},
     "encoding": {"x":{"field":"ex","type":"quantitative"},"y":{"field":"ey","type":"quantitative"},"text":{"field":"el"}}},
    {"data": {"values": [{"t":"SIII","x":236.8,"y":231.7},{"t":"(c)","x":237.1,"y":199.0}]}, "mark": {"type":"text","align":"center","baseline":"middle","fontSize":31},
     "encoding": {"x":{"field":"x","type":"quantitative"},"y":{"field":"y","type":"quantitative"},"text":{"field":"t"}}}
   ]},
  {"width": 572, "height": 404, "view": {"stroke": null},
   "layer": [
    {"data": {"values": [{"x":0.152,"x2":0.716,"y":0.3111,"y2":0.901}]}, "mark": {"type":"rect","color":"#111"},
     "encoding": {"x":{"field":"x","type":"quantitative","scale":{"domain":[0,1],"nice":false,"zero":false},"axis":null},"y":{"field":"y","type":"quantitative","scale":{"domain":[0,1],"nice":false,"zero":false,"reverse":true},"axis":null},"x2":{"field":"x2"},"y2":{"field":"y2"}}},
    {"data": {"values": [{"x":0.1416,"x2":0.7068,"y":0.2963,"y2":0.8844}]}, "mark": {"type":"rect","fill":"white","stroke":"#111","strokeWidth":1.3},
     "encoding": {"x":{"field":"x","type":"quantitative","axis":null},"y":{"field":"y","type":"quantitative","axis":null},"x2":{"field":"x2"},"y2":{"field":"y2"}}},
    {"data": {"values": [{"t":"Hot Configuration","x":0.162,"y":0.4158},{"t":"E","x":0.162,"y":0.5569},{"t":"=35 MeV","x":0.2173,"y":0.5569},{"t":"T=1.124 MeV","x":0.162,"y":0.6881},{"t":"=80ℏ","x":0.278,"y":0.8193}]}, "mark": {"type":"text","align":"left","baseline":"alphabetic","fontSize":40},
     "encoding": {"x":{"field":"x","type":"quantitative","axis":null},"y":{"field":"y","type":"quantitative","axis":null},"text":{"field":"t"}}},
    {"data": {"values": [{"t":"ℓ","x":0.162,"y":0.8193}]}, "mark": {"type":"text","align":"left","baseline":"alphabetic","fontSize":40,"fontStyle":"italic"},
     "encoding": {"x":{"field":"x","type":"quantitative","axis":null},"y":{"field":"y","type":"quantitative","axis":null},"text":{"field":"t"}}},
    {"data": {"values": [{"t":"*","x":0.204,"y":0.4604}]}, "mark": {"type":"text","align":"left","baseline":"top","fontSize":24},
     "encoding": {"x":{"field":"x","type":"quantitative","axis":null},"y":{"field":"y","type":"quantitative","axis":null},"text":{"field":"t"}}},
    {"data": {"values": [{"t":"max","x":0.199,"y":0.8639}]}, "mark": {"type":"text","align":"left","baseline":"alphabetic","fontSize":22,"fontWeight":"bold"},
     "encoding": {"x":{"field":"x","type":"quantitative","axis":null},"y":{"field":"y","type":"quantitative","axis":null},"text":{"field":"t"}}}
   ]}
]
}
